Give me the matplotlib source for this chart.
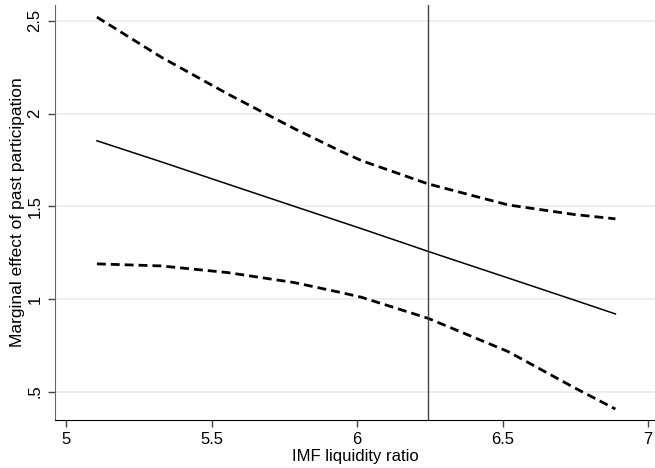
import matplotlib
matplotlib.use("Agg")
import matplotlib.pyplot as plt

plt.rcParams['font.family'] = ['Liberation Sans', 'DejaVu Sans']

# values
liq = [5.106, 5.326, 5.556, 5.785, 5.946, 6.015, 6.243, 6.519, 6.748, 6.888]
effect = [1.853, 1.740, 1.619, 1.499, 1.415, 1.379, 1.257, 1.113, 0.993, 0.919]
upper = [2.52, 2.305, 2.105, 1.918, 1.795, 1.746, 1.621, 1.507, 1.455, 1.432]
lower = [1.189, 1.178, 1.142, 1.088, 1.034, 1.009, 0.896, 0.716, 0.52, 0.406]
vline_x = 6.243

xticks = [5, 5.5, 6, 6.5, 7]
xtick_labels = ['5', '5.5', '6', '6.5', '7']
yticks = [0.5, 1, 1.5, 2, 2.5]
ytick_labels = ['.5', '1', '1.5', '2', '2.5']

fig = plt.figure(figsize=(6.55, 4.68), dpi=100)
ax = fig.add_axes([0.084, 0.1026, 0.916, 0.887])

ax.plot(liq, effect, color='black', lw=1.1)
ax.plot(liq, upper, color='black', lw=2.0, dashes=(3.2, 1.8))
ax.plot(liq, lower, color='black', lw=2.0, dashes=(3.2, 1.8))
ax.axvline(vline_x, color='#444444', lw=1.0)

ax.set_xlim(4.962, 7.024)
ax.set_ylim(0.347, 2.586)
ax.set_xticks(xticks)
ax.set_xticklabels(xtick_labels)
ax.set_yticks(yticks)
ax.set_yticklabels(ytick_labels, rotation=90, va='center')
ax.grid(axis='y', color='#eaeaea', lw=1.2)
ax.set_axisbelow(True)

for s in ['top', 'right']:
    ax.spines[s].set_visible(False)
ax.spines['left'].set_color('#666666')
ax.spines['bottom'].set_color('black')
ax.tick_params(axis='both', labelsize=12, length=5, width=1, color='#444444', pad=4)

ax.set_xlabel('IMF liquidity ratio', fontsize=12, labelpad=1)
ax.set_ylabel('Marginal effect of past participation', fontsize=12.5, labelpad=2)

fig.savefig('out.png', dpi=100)
